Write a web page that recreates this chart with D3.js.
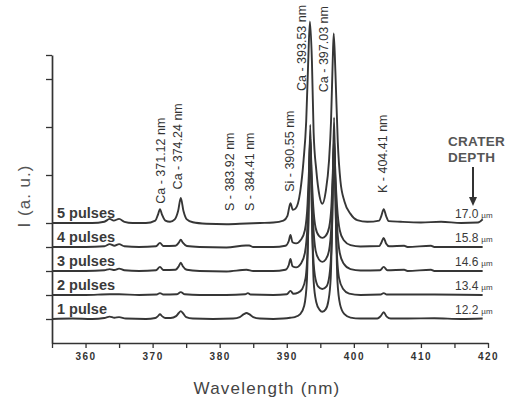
<!DOCTYPE html>
<html>
<head>
<meta charset="utf-8">
<script src="https://cdn.jsdelivr.net/npm/d3@7"></script>
<style>
  html, body { margin: 0; padding: 0; background: #fff; }
  svg { display: block; }
  text { font-family: "Liberation Sans", Arial, sans-serif; }
</style>
</head>
<body>
<svg id="chart" width="509" height="403"></svg>
<script>
// ---------------- DATA ----------------
const seriesNames = ["1 pulse", "2 pulses", "3 pulses", "4 pulses", "5 pulses"];
const seriesOffsets = [1, 2, 3, 4, 5];              // vertical stacking offset (a.u.)
const craterDepths = ["12.2", "13.4", "14.6", "15.8", "17.0"]; // µm

// [wavelength nm, intensity above own baseline a.u.]
const spectrum1 = [[355,0],[358,0.02],[361,0],[362.8,0.04],[363.6,0.1],[364.3,0.05],[365,0.08],[366,0.02],[369,0],
  [370.4,0.04],[370.8,0.12],[371.1,0.2],[371.4,0.12],[371.9,0.04],[372.7,0.04],[373.5,0.12],[373.9,0.25],[374.2,0.33],
  [374.5,0.25],[375,0.08],[376,0.02],[379,0],[382,0.02],[383,0.08],[383.6,0.2],[384,0.25],[384.4,0.2],[385,0.08],
  [386,0.02],[388,0],[389.5,0.02],[390.5,0.05],[391.2,0.08],[392,0.2],[392.6,0.55],[393.0,1.6],[393.25,4.5],[393.5,8.1],
  [393.75,4.5],[394.0,1.6],[394.4,0.7],[394.9,0.38],[395.3,0.3],[395.8,0.4],[396.2,0.75],[396.55,1.7],[396.8,4.6],
  [397.05,8.4],[397.3,4.6],[397.55,1.6],[397.95,0.6],[398.6,0.2],[399.5,0.06],[401,0.02],[403.5,0.02],[404.0,0.12],
  [404.45,0.28],[404.9,0.1],[405.5,0.02],[408,0.02],[412,0.03],[416,0],[419.2,0.02]];
const spectrum2 = [[355,0],[360,0],[363.6,0.03],[365,0.03],[368,0],[370.6,0.02],[371.1,0.08],[371.6,0.02],[373.6,0.03],
  [374.2,0.12],[374.8,0.03],[377,0],[381,0],[383.8,0.03],[384.2,0.08],[384.6,0.02],[388,0],[390,0.03],[390.55,0.17],
  [391,0.05],[391.7,0.1],[392.3,0.25],[392.8,0.7],[393.15,2.2],[393.5,6.3],[393.85,2.2],[394.2,0.8],[394.7,0.35],
  [395.3,0.25],[395.9,0.35],[396.35,0.8],[396.7,2.2],[397.05,6.3],[397.4,2.2],[397.8,0.7],[398.4,0.25],[399.3,0.06],
  [401,0],[404,0.02],[404.45,0.08],[404.9,0.02],[408,0.02],[412,0.02],[419.2,0]];
const spectrum3 = [[355,0],[360,0],[362.8,0.03],[363.6,0.08],[364.3,0.04],[365,0.1],[365.8,0.03],[368,0],[370.5,0.03],
  [371.1,0.17],[371.6,0.04],[373.4,0.05],[373.9,0.2],[374.2,0.35],[374.5,0.2],[375.1,0.05],[377,0],[381,-0.02],
  [384,0.05],[385,0],[388,0],[389.8,0.05],[390.3,0.25],[390.55,0.5],[390.85,0.2],[391.4,0.15],[392.1,0.3],[392.7,0.75],
  [393.1,2.0],[393.3,3.6],[393.5,5.5],[393.7,3.6],[393.95,1.9],[394.3,0.85],[394.8,0.48],[395.3,0.38],[395.8,0.48],
  [396.3,0.85],[396.65,1.9],[396.85,3.5],[397.05,5.4],[397.25,3.5],[397.5,1.9],[397.9,0.75],[398.5,0.3],[399.5,0.08],
  [401,0.02],[403.9,0.03],[404.45,0.17],[405,0.03],[407.5,0.05],[408,0],[411.5,0.05],[412,0],[419.2,0]];
const spectrum4 = [[355,0],[360,0],[362.8,0.03],[363.6,0.12],[364.3,0.05],[365,0.12],[365.8,0.03],[368,0],[370.5,0.03],
  [371.1,0.17],[371.6,0.04],[373.4,0.05],[373.9,0.18],[374.2,0.3],[374.5,0.18],[375.1,0.04],[377,0],[381,-0.02],
  [383.9,0.06],[384.4,0.06],[385,0],[388,0],[389.8,0.05],[390.3,0.25],[390.55,0.5],[390.85,0.2],[391.4,0.15],
  [392.1,0.3],[392.7,0.7],[393.1,1.8],[393.3,3.1],[393.5,4.6],[393.7,3.1],[393.95,1.7],[394.3,0.8],[394.8,0.46],
  [395.3,0.38],[395.8,0.46],[396.3,0.8],[396.65,1.7],[396.85,3.0],[397.05,4.5],[397.25,3.0],[397.5,1.7],[397.9,0.7],
  [398.5,0.28],[399.5,0.08],[401,0.02],[403.8,0.04],[404.1,0.18],[404.45,0.38],[404.8,0.15],[405.3,0.03],[407.5,0.05],
  [408,0],[411.5,0.05],[412,0],[419.2,0]];
const spectrum5 = [[355,0],[358,0],[361,0],[362.8,0.05],[363.6,0.17],[364.2,0.1],[365,0.17],[365.8,0.05],[367,0],
  [369,0],[370.4,0.1],[370.8,0.35],[371.1,0.58],[371.4,0.35],[371.9,0.1],[372.6,0.05],[373.3,0.15],[373.8,0.5],
  [374.2,1.04],[374.6,0.5],[375.1,0.15],[376,0.03],[378,-0.03],[381,-0.05],[384,-0.02],[386,0],[388,0.02],[389.5,0.1],
  [390.1,0.3],[390.55,0.83],[390.9,0.55],[391.3,0.6],[392.0,1.3],[392.5,2.6],[392.9,4.25],[393.2,6.75],[393.45,8.4],
  [393.75,6.75],[394.0,3.8],[394.4,2.2],[394.9,1.1],[395.3,0.8],[395.8,1.3],[396.3,2.6],[396.6,4.25],[396.85,6.75],
  [397.0,7.9],[397.25,6.3],[397.6,3.4],[398.0,1.75],[398.6,0.9],[399.5,0.38],[400.5,0.12],[402,0.05],[403.8,0.1],
  [404.1,0.3],[404.45,0.58],[404.8,0.3],[405.2,0.08],[407,0.05],[410,0.02],[413,0.05],[416,0],[418.5,0.02],[419.2,0.15]];
const spectra = [spectrum1, spectrum2, spectrum3, spectrum4, spectrum5];

const xTickValues = [355,360,365,370,375,380,385,390,395,400,405,410,415,420];
const xTickLabels = ["","360","","370","","380","","390","","400","","410","","420"];
const yTickValues = [1,2,3,4,5,7,9,11,12];

const peakLabels = ["Ca - 371.12 nm","Ca - 374.24 nm","S - 383.92 nm","S - 384.41 nm","Si - 390.55 nm",
                    "Ca - 393.53 nm","Ca - 397.03 nm","K - 404.41 nm"];
// layout of peak labels: wavelength where the label sits, and intensity (a.u.) where it starts
const peakLabelAt = [371.3, 373.8, 381.6, 384.5, 390.55, 392.3, 395.5, 404.4];
const peakLabelBase = [5.8, 6.4, 5.5, 5.5, 6.3, 10.5, 10.45, 6.25];

// ---------------- CHART ----------------
const svg = d3.select("#chart");
const x = d3.scaleLinear().domain([355, 420]).range([52, 488]);
const y = d3.scaleLinear().domain([0, 12]).range([343, 55]);
const ink = "#333";

// axes
const xAxis = d3.axisBottom(x).tickValues(xTickValues).tickSize(5).tickSizeOuter(0)
  .tickFormat((d, i) => xTickLabels[i]);
const gx = svg.append("g").attr("transform", `translate(0,${y(0)})`).call(xAxis);
gx.select(".domain").attr("stroke", ink).attr("stroke-width", 1.7);
gx.selectAll(".tick line").attr("stroke", ink).attr("stroke-width", 1.3);
gx.selectAll(".tick text").attr("fill", "#333").attr("font-size", 10).attr("font-weight", "bold")
  .attr("letter-spacing", 1.5).attr("dy", "0.85em");

const yAxis = d3.axisLeft(y).tickValues(yTickValues).tickSize(6).tickSizeOuter(0).tickFormat("");
const gy = svg.append("g").attr("transform", `translate(${x(355)},0)`).call(yAxis);
gy.select(".domain").attr("stroke", ink).attr("stroke-width", 1.7);
gy.selectAll(".tick line").attr("stroke", ink).attr("stroke-width", 1.3);

// spectra
const line = d3.line().curve(d3.curveMonotoneX);
spectra.forEach((s, i) => {
  const off = seriesOffsets[i];
  svg.append("path")
    .attr("d", line(s.map(p => [x(p[0]), y(p[1] + off)])))
    .attr("fill", "none").attr("stroke", "#363636").attr("stroke-width", 1.9)
    .attr("stroke-linejoin", "round");
});

// series labels (left) and crater depth (right)
seriesNames.forEach((n, i) => {
  svg.append("text").attr("x", 57).attr("y", y(seriesOffsets[i]) - 5)
    .attr("font-size", 14.5).attr("font-weight", "bold").attr("fill", "#3a3a3a").text(n);
  const t = svg.append("text").attr("x", 455).attr("y", y(seriesOffsets[i]) - 5)
    .attr("font-size", 12).attr("fill", "#3a3a3a");
  t.append("tspan").text(craterDepths[i]);
  t.append("tspan").attr("font-size", 8).attr("dx", 3).text("µm");
});

// peak labels
peakLabels.forEach((l, i) => {
  const px = x(peakLabelAt[i]), py = y(peakLabelBase[i]);
  svg.append("text").attr("transform", `translate(${px},${py}) rotate(-90)`)
    .attr("dominant-baseline", "central").attr("font-size", 12.5).attr("fill", "#333").text(l);
});

// crater depth header + arrow
svg.append("text").attr("x", 448).attr("y", 146).attr("font-size", 13.5).attr("font-weight", "bold")
  .attr("fill", "#555").attr("letter-spacing", 0.3).text("CRATER");
svg.append("text").attr("x", 448).attr("y", 162).attr("font-size", 13.5).attr("font-weight", "bold")
  .attr("fill", "#555").attr("letter-spacing", 0.3).text("DEPTH");
svg.append("line").attr("x1", 473).attr("x2", 473).attr("y1", 167).attr("y2", 199)
  .attr("stroke", ink).attr("stroke-width", 2);
svg.append("path").attr("d", "M469,197 L477,197 L473,206 Z").attr("fill", ink);

// axis titles
svg.append("text").attr("transform", `translate(24,196) rotate(-90)`).attr("text-anchor", "middle")
  .attr("dominant-baseline", "central").attr("font-size", 17).attr("letter-spacing", 1)
  .attr("fill", "#555").text("I (a. u.)");
svg.append("text").attr("x", 267).attr("y", 394).attr("text-anchor", "middle")
  .attr("font-size", 17).attr("letter-spacing", 1.2).attr("fill", "#444").text("Wavelength (nm)");
</script>
</body>
</html>
